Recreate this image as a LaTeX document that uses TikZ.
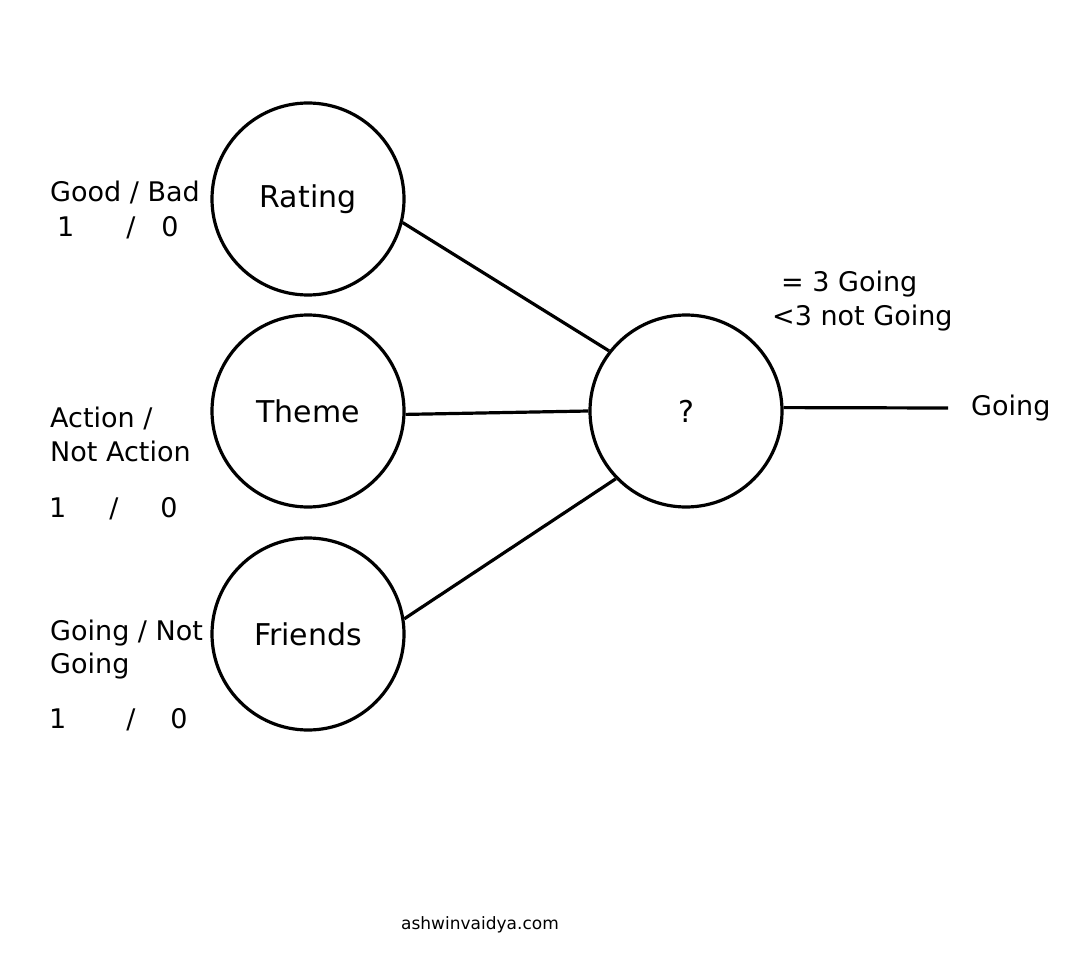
\documentclass[tikz,border=0pt]{standalone}
\usepackage{fontspec}
\setmainfont{DejaVu Sans}
\usetikzlibrary{positioning}

\begin{document}
\begin{tikzpicture}[
    x=1pt, y=-1pt,
    neuron/.style={draw, circle, line width=3.2pt, minimum size=192pt, inner sep=0pt, font=\fontsize{30}{36}\selectfont},
    sidetext/.style={anchor=base west, inner sep=0pt, font=\fontsize{27}{34}\selectfont},
    link/.style={line width=3.2pt}
]
\useasboundingbox (0,0) rectangle (1080,960);

\node[neuron] (rating) at (308,199) {Rating};
\node[neuron] (theme) at (308,411) {Theme};
\node[neuron] (friends) at (308,634) {Friends};
\node[neuron] (sum) at (686,411) {?};

\node[sidetext] (ratingtxt) at (50,202) {Good / Bad};
\node[sidetext] (ratingval) at (57,237) {1\hspace{52pt}/\hspace{26pt}0};
\node[sidetext] (themetxt) at (50,427) {Action /};
\node[sidetext] (themetxt2) at (50,461) {Not Action};
\node[sidetext] (themeval) at (49,517) {1\hspace{43pt}/\hspace{42pt}0};
\node[sidetext] (friendstxt) at (50,640) {Going / Not};
\node[sidetext] (friendstxt2) at (50,673) {Going};
\node[sidetext] (friendsval) at (49,728) {1\hspace{60pt}/\hspace{35pt}0};

\node[sidetext] (rule1) at (781,292) {= 3 Going};
\node[sidetext] (rule2) at (772,326) {<3 not Going};
\node[sidetext] (result) at (971,415) {Going};
\node[anchor=base, inner sep=0pt, font=\fontsize{17}{20}\selectfont] (site) at (480,929) {ashwinvaidya.com};

\coordinate (outend) at (948,408);

\draw[link] (rating.-14) -- (sum.142);
\draw[link] (theme.-2) -- (sum.180);
\draw[link] (friends.9) -- (sum.224);
\draw[link] (sum.2) -- (outend);
\end{tikzpicture}
\end{document}
